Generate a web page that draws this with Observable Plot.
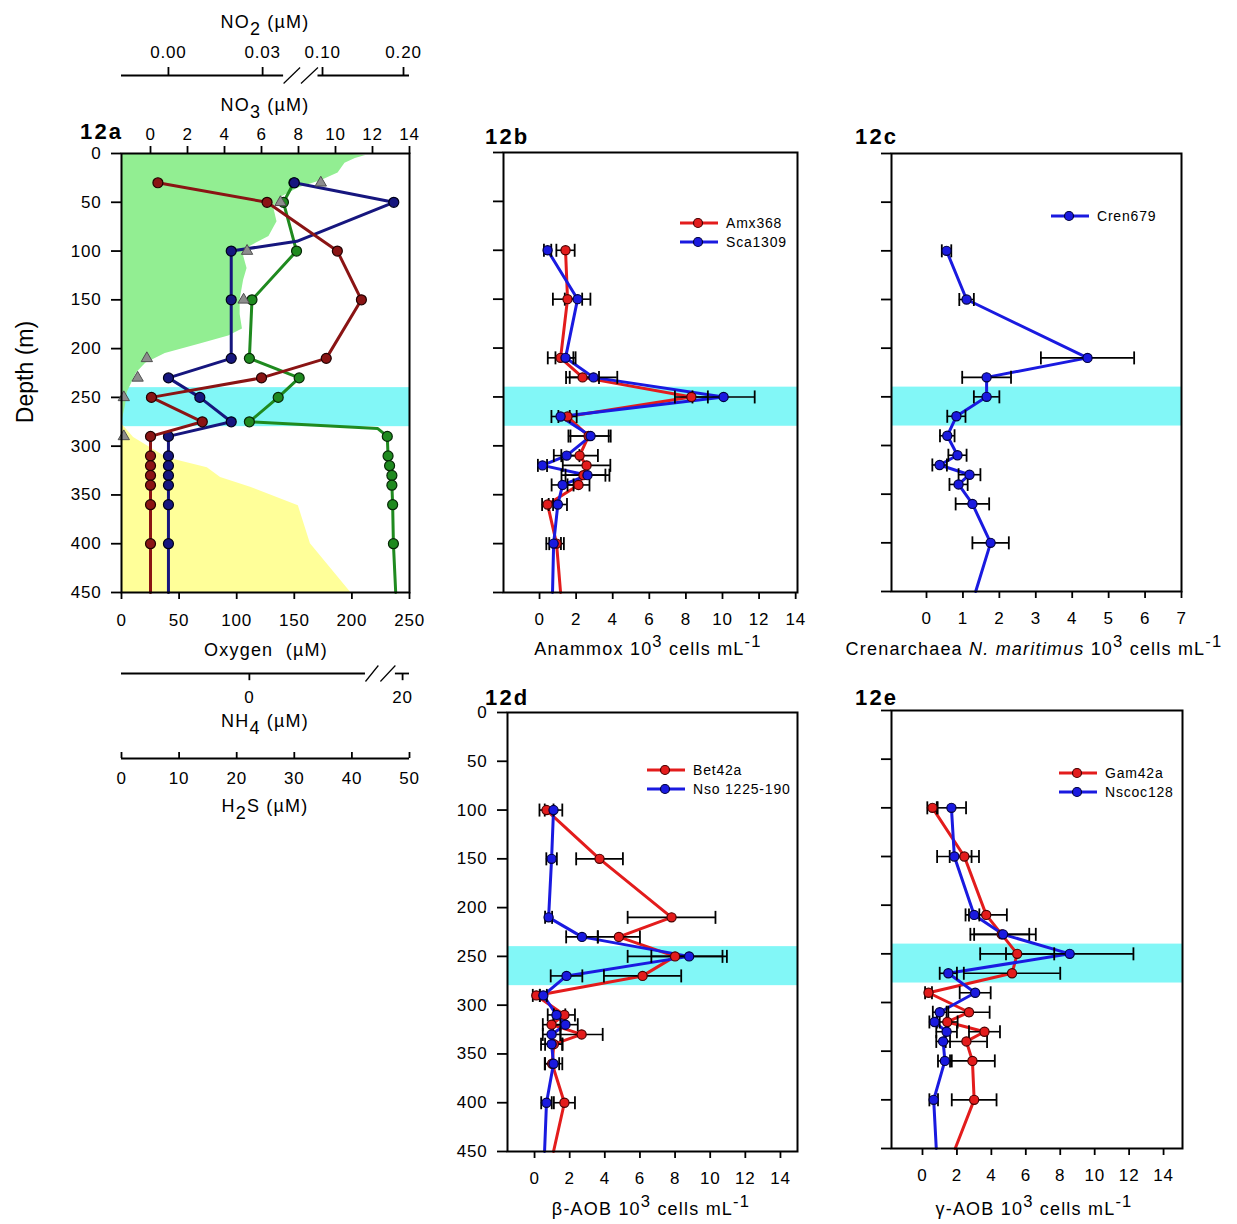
<!DOCTYPE html>
<html>
<head>
<meta charset="utf-8">
<script src="https://cdn.jsdelivr.net/npm/d3@7"></script>
<script src="https://cdn.jsdelivr.net/npm/@observablehq/plot@0.6"></script>
<style>
  html, body { margin: 0; padding: 0; background: #fff; }
  #fig { position: relative; width: 1237px; height: 1224px; overflow: hidden; background: #fff;
         font-family: "Liberation Sans", Arial, sans-serif; color: #000; }
  .t { position: absolute; white-space: nowrap; font-size: 18px; letter-spacing: 1.2px; line-height: 1;
       transform: translateX(-50%); }
  .sb { position: relative; top: 0.38em; }
  .sp { position: relative; top: -0.5em; font-size: 0.92em; }
  .tag { position: absolute; font-weight: bold; font-size: 22px; letter-spacing: 2.2px; line-height: 1; }
  .lg { position: absolute; height: 14px; font-size: 14px; letter-spacing: 0.8px; line-height: 14px;
        display: flex; align-items: center; white-space: nowrap; }
  .ylab { position: absolute; font-size: 23px; line-height: 1; white-space: nowrap;
          transform: translate(-50%, -50%) rotate(-90deg); }
  #fig g[aria-label$="tick"], #fig g[aria-label$="tick"] path { stroke-width: 1.8px; }
</style>
</head>
<body>
<div id="fig"></div>
<script>
// ---------------- tick values ----------------
const depthTicks = [0, 50, 100, 150, 200, 250, 300, 350, 400, 450];
const o2Ticks = [0, 50, 100, 150, 200, 250];
const no3Ticks = [0, 2, 4, 6, 8, 10, 12, 14];
const no2Ticks = [0, 0.03, 0.10, 0.20];
const nh4Ticks = [0, 20];
const h2sTicks = [0, 10, 20, 30, 40, 50];
const cellTicks = [0, 2, 4, 6, 8, 10, 12, 14];
const crenTicks = [0, 1, 2, 3, 4, 5, 6, 7];

// suboxic layer shaded in every panel (m)
const suboxicBand = [{top: 240, bottom: 280}];

// ---------------- 12a: water-column chemistry ----------------
const chemDepth = [30, 50, 100, 150, 210, 230, 250, 275, 290, 310, 320, 330, 340, 360, 400];
const no3 = [0.4, 6.3, 10.1, 11.4, 9.5, 6.0, 0.05, 2.8, 0, 0, 0, 0, 0, 0, 0];
const no2 = [0.067, 0.188, 0.020, 0.020, 0.020, 0.0, 0.010, 0.020, 0, 0, 0, 0, 0, 0, 0];
const nh4 = [0.17, 0.13, 0.18, 0.01, 0.0, 0.19, 0.11, 0.0, 18.0, 18.1, 18.3, 18.6, 18.6, 18.7, 18.8];
// bends of the drawn profiles that carry no symbol
const no2Bends = [{depth: 90, value: 0.070}];
const nh4Bends = [{depth: 282, value: 0.49}];
// values where the profiles meet the bottom of the panel (450 m)
const no3End = 0, no2End = 0, nh4End = 19.1;

// discrete oxygen samples (triangles)
const o2SampleDepth = [30, 50, 100, 150, 210, 230, 250, 290];
const o2Sample = [173, 138, 109, 106, 22, 14, 2, 2];

// continuous oxygen profile (green fill)
const o2ProfileDepth = [0, 2, 5, 10, 20, 28, 35, 45, 55, 70, 85, 95, 105, 118, 130, 150, 165, 180, 187, 195, 205, 215, 225, 235, 245, 258, 272, 280];
const o2Profile = [188, 212, 203, 194, 188, 173, 154, 138, 132, 135, 128, 112, 106, 109, 106, 103, 103, 105, 93, 69, 38, 21, 13, 9, 5, 3.5, 1, 0];

// sulfide profile (yellow fill)
const h2sDepth = [277, 291, 312, 322, 332, 342, 361, 400, 450];
const h2s = [0, 2.1, 7.9, 14.9, 17.2, 22.4, 30.7, 32.8, 39.8];

// broken axes: concentration breakpoints and where each sits along the axis (0 = left, 1 = right)
const no2Domain = [-0.015, 0, 0.03, 0.10, 0.2074];
const no2Stops = [0, 0.163, 0.490, 0.698, 1];
const no2BreakStrokes = [[0.0545, 0.0738], [0.0748, 0.0947]];
const nh4Domain = [-0.489, 0, 0.5, 17.1, 20, 20.92];
const nh4Stops = [0, 0.444, 0.899, 0.899, 0.976, 1];
const nh4BreakStrokes = [[0.443, 0.492], [17.1, 19.06]];

// ---------------- 12b-12e: cell counts (10^3 cells mL^-1) ----------------
const sampleDepth = [100, 150, 210, 230, 250, 270, 290, 310, 320, 330, 340, 360, 400];

const amx368 = [1.42, 1.53, 1.15, 2.35, 8.3, 1.53, 2.68, 2.19, 2.57, 2.4, 2.13, 0.44, 0.93];
const amx368Err = [0.5, 0.8, 0.7, 0.9, 0.9, 0.5, 1.1, 1.0, 1.3, 1.2, 0.6, 0.3, 0.4];
const sca1309 = [0.44, 2.08, 1.42, 2.95, 10.06, 1.15, 2.79, 1.48, 0.16, 2.62, 1.26, 1.0, 0.77];
const sca1309Err = [0.2, 0.7, 0.55, 1.3, 1.7, 0.5, 1.1, 0.7, 0.25, 1.2, 0.6, 0.5, 0.4];
const amx368End = 1.15, sca1309End = 0.71;

const cren679 = [0.55, 1.1, 4.42, 1.65, 1.65, 0.82, 0.57, 0.85, 0.36, 1.18, 0.88, 1.26, 1.76];
const cren679Err = [0.13, 0.2, 1.28, 0.67, 0.35, 0.25, 0.2, 0.25, 0.2, 0.3, 0.25, 0.46, 0.5];
const cren679End = 1.35;

const bet42a = [0.68, 3.7, 7.8, 4.8, 8.0, 6.15, 0.1, 1.7, 0.97, 2.68, 1.1, 1.0, 1.7];
const bet42aErr = [0.4, 1.33, 2.5, 1.2, 2.7, 2.2, 0.2, 0.6, 0.5, 1.2, 0.5, 0.4, 0.6];
const nso1225 = [1.08, 0.97, 0.8, 2.7, 8.8, 1.82, 0.5, 1.25, 1.76, 0.97, 0.97, 1.08, 0.68];
const nso1225Err = [0.5, 0.3, 0.2, 0.9, 2.15, 0.9, 0.2, 0.5, 0.7, 0.5, 0.6, 0.5, 0.3];
const bet42aEnd = 1.08, nso1225End = 0.57;

const gam42a = [0.58, 2.43, 3.7, 4.6, 5.5, 5.2, 0.35, 2.7, 1.44, 3.6, 2.55, 2.9, 3.0];
const gam42aErr = [0.3, 0.85, 1.2, 1.6, 2.15, 2.8, 0.2, 1.2, 0.6, 0.9, 1.2, 1.3, 1.3];
const nscoc128 = [1.68, 1.85, 3.0, 4.68, 8.55, 1.5, 3.06, 1.0, 0.7, 1.4, 1.2, 1.3, 0.65];
const nscoc128Err = [0.85, 1.0, 0.3, 1.9, 3.7, 0.5, 0.9, 0.4, 0.3, 0.6, 0.4, 0.4, 0.25];
const gam42aEnd = 1.9, nscoc128End = 0.8;

// ---------------- drawing ----------------
const W = 1237, H = 1224;
const fig = document.getElementById("fig");
const SVG_STYLE = "position:absolute;left:0;top:0;max-width:none;background:transparent;overflow:visible;" +
  "font-family:'Liberation Sans',Arial,sans-serif;font-size:17px;letter-spacing:0.8px;";

const CYAN = "#82f7f7", LIGHTGREEN = "#92ee92", YELLOW = "#ffff99";
const RED = "#e31c1c", RED_EDGE = "#4a0000", BLUE = "#1a1ae0", BLUE_EDGE = "#000040";
const MAROON = "#8a1414", NAVY = "#16167e", GREEN = "#1f8a1f";

// panel frames in page pixels
const frameA = {left: 121, right: 409, top: 153, bottom: 592};
const frameB = {left: 503, right: 797, top: 152, bottom: 592};
const frameC = {left: 891, right: 1181, top: 153, bottom: 591};
const frameD = {left: 507, right: 797, top: 712, bottom: 1151};
const frameE = {left: 891, right: 1182, top: 710, bottom: 1148};

// broken-axis x scales: a piecewise transform places each concentration along the axis
const brokenX = (domain, stops) => ({transform: d3.scaleLinear().domain(domain).range(stops), domain: [0, 1]});
const no2X = brokenX(no2Domain, no2Stops);
const nh4X = brokenX(nh4Domain, nh4Stops);

function layer(f, x, y, marks) {
  const svg = Plot.plot({
    width: W, height: H,
    marginLeft: f.left, marginRight: W - f.right, marginTop: f.top, marginBottom: H - f.bottom,
    x: {range: [f.left, f.right], axis: null, label: null, ...x},
    y: {domain: [0, 450], range: [f.top, f.bottom], axis: null, label: null, ...y},
    style: SVG_STYLE,
    marks
  });
  fig.append(svg);
}

const rows = (vals, errs) => sampleDepth.map((depth, i) => ({depth, v: vals[i], e: errs ? errs[i] : 0}));
const withEnd = (data, end) => data.concat([{depth: 450, v: end}]);

// vertical end caps of the error bars
const capSymbol = {draw(ctx, size) { const r = Math.sqrt(size / Math.PI); ctx.moveTo(0, -r); ctx.lineTo(0, r); }};

function countPanel(f, xDomain, ticks, series, depthLabels) {
  const marks = [Plot.rect(suboxicBand, {y1: "top", y2: "bottom", fill: CYAN})];
  for (const s of series) {
    marks.push(Plot.line(withEnd(s.data, s.end), {x: "v", y: "depth", stroke: s.color, strokeWidth: 3, strokeLinejoin: "round"}));
  }
  for (const s of series) {
    marks.push(
      Plot.ruleY(s.data, {y: "depth", x1: d => d.v - d.e, x2: d => d.v + d.e, stroke: "black", strokeWidth: 1.6}),
      Plot.dot(s.data, {x: d => d.v - d.e, y: "depth", symbol: capSymbol, r: 6.5, stroke: "black", fill: "none", strokeWidth: 1.8}),
      Plot.dot(s.data, {x: d => d.v + d.e, y: "depth", symbol: capSymbol, r: 6.5, stroke: "black", fill: "none", strokeWidth: 1.8})
    );
  }
  for (const s of series) {
    marks.push(Plot.dot(s.data, {x: "v", y: "depth", r: 4.6, fill: s.color, stroke: s.edge, strokeWidth: 1.2}));
  }
  marks.push(Plot.frame({stroke: "black", strokeWidth: 2}));
  layer(f,
    {domain: xDomain, axis: "bottom", ticks, tickSize: 7, tickPadding: 13, tickFormat: d => String(d)},
    {axis: "left", ticks: depthTicks, tickSize: 10, tickPadding: 10,
     tickFormat: depthLabels ? (d => String(d)) : (() => "")},
    marks);
}

// ---- 12a layers ----
const o2Rows = o2ProfileDepth.map((depth, i) => ({depth, v: o2Profile[i]}));
const h2sRows = h2sDepth.map((depth, i) => ({depth, v: h2s[i]}));
const chemRows = vals => chemDepth.map((depth, i) => ({depth, v: vals[i]}));
const withBends = (data, bends, end) =>
  data.concat(bends.map(b => ({depth: b.depth, v: b.value})), [{depth: 450, v: end}]).sort((a, b) => a.depth - b.depth);

// oxygen scale: band, oxygen fill, depth and oxygen axes
layer(frameA,
  {domain: [0, 250], axis: "bottom", ticks: o2Ticks, tickSize: 7, tickPadding: 14, tickFormat: d => String(d)},
  {axis: "left", ticks: depthTicks, tickSize: 10, tickPadding: 10, tickFormat: d => String(d)},
  [
    Plot.rect(suboxicBand, {y1: "top", y2: "bottom", fill: CYAN}),
    Plot.areaX(o2Rows, {x1: 0, x2: "v", y: "depth", fill: LIGHTGREEN})
  ]);

// sulfide fill
layer(frameA, {domain: [0, 50]}, {}, [
  Plot.areaX(h2sRows, {x1: 0, x2: "v", y: "depth", fill: YELLOW})
]);

// ammonium
const nh4Data = chemRows(nh4);
layer(frameA, nh4X, {}, [
  Plot.line(withBends(nh4Data, nh4Bends, nh4End), {x: "v", y: "depth", stroke: GREEN, strokeWidth: 3, strokeLinejoin: "round"}),
  Plot.dot(nh4Data, {x: "v", y: "depth", r: 5, fill: GREEN, stroke: "#062806", strokeWidth: 1.2})
]);

// nitrite
const no2Data = chemRows(no2);
layer(frameA, no2X, {}, [
  Plot.line(withBends(no2Data, no2Bends, no2End), {x: "v", y: "depth", stroke: NAVY, strokeWidth: 3, strokeLinejoin: "round"}),
  Plot.dot(no2Data, {x: "v", y: "depth", r: 5, fill: NAVY, stroke: "#000018", strokeWidth: 1.2})
]);

// nitrate with its top axis
const no3Data = chemRows(no3);
layer(frameA,
  {domain: [-1.568, 14], axis: "top", ticks: no3Ticks, tickSize: 8, tickPadding: 6, tickFormat: d => String(d)},
  {},
  [
    Plot.line(withEnd(no3Data, no3End), {x: "v", y: "depth", stroke: MAROON, strokeWidth: 3, strokeLinejoin: "round"}),
    Plot.dot(no3Data, {x: "v", y: "depth", r: 5, fill: MAROON, stroke: "#200000", strokeWidth: 1.2})
  ]);

// oxygen bottle samples and the panel box
layer(frameA, {domain: [0, 250]}, {}, [
  Plot.dot(o2SampleDepth.map((depth, i) => ({depth, v: o2Sample[i]})),
    {x: "v", y: "depth", symbol: "triangle", r: 4.2, fill: "#8d8d8d", stroke: "#505050", strokeWidth: 1}),
  Plot.frame({stroke: "black", strokeWidth: 2})
]);

// free-standing axes of 12a (NO2 above, NH4 and H2S below)
function looseAxis(lineY, x, extent, ticks, tickDir, labelDy, fmt, breaks) {
  const [lo, hi] = extent;
  const pieces = breaks ? [[lo, breaks[0][0]], [breaks[1][1], hi]] : [[lo, hi]];
  const svg = Plot.plot({
    width: W, height: H,
    marginLeft: 121, marginRight: W - 409, marginTop: lineY - 8, marginBottom: H - lineY - 8,
    x: {range: [121, 409], axis: null, ...x},
    y: {domain: [-1, 1], range: [lineY + 8, lineY - 8], axis: null},
    style: SVG_STYLE,
    marks: [
      Plot.ruleY(pieces, {y: 0, x1: d => d[0], x2: d => d[1], stroke: "black", strokeWidth: 1.8}),
      Plot.ruleX(ticks, {x: d => d, y1: 0, y2: tickDir, stroke: "black", strokeWidth: 1.8}),
      Plot.text(ticks, {x: d => d, y: 0, dy: labelDy, text: fmt, lineAnchor: "middle", fill: "black"}),
      ...(breaks ? [Plot.link(breaks, {x1: d => d[0], x2: d => d[1], y1: -1, y2: 1, stroke: "black", strokeWidth: 1.2})] : [])
    ]
  });
  fig.append(svg);
}
looseAxis(75, no2X, [no2Domain[0], no2Domain[no2Domain.length - 1]], no2Ticks, 1, -22.5, d => d.toFixed(2), no2BreakStrokes);
looseAxis(673, nh4X, [nh4Domain[0], nh4Domain[nh4Domain.length - 1]], nh4Ticks, -0.9, 24, d => String(d), nh4BreakStrokes);
looseAxis(758, {domain: [0, 50]}, [0, 50], h2sTicks, 0.75, 20, d => String(d), null);

// ---- 12b-12e ----
countPanel(frameB, [-1.97, 14.1], cellTicks, [
  {data: rows(amx368, amx368Err), end: amx368End, color: RED, edge: RED_EDGE},
  {data: rows(sca1309, sca1309Err), end: sca1309End, color: BLUE, edge: BLUE_EDGE}
], false);
countPanel(frameC, [-0.961, 7], crenTicks, [
  {data: rows(cren679, cren679Err), end: cren679End, color: BLUE, edge: BLUE_EDGE}
], false);
countPanel(frameD, [-1.54, 14.97], cellTicks, [
  {data: rows(bet42a, bet42aErr), end: bet42aEnd, color: RED, edge: RED_EDGE},
  {data: rows(nso1225, nso1225Err), end: nso1225End, color: BLUE, edge: BLUE_EDGE}
], true);
countPanel(frameE, [-1.8, 15.1], cellTicks, [
  {data: rows(gam42a, gam42aErr), end: gam42aEnd, color: RED, edge: RED_EDGE},
  {data: rows(nscoc128, nscoc128Err), end: nscoc128End, color: BLUE, edge: BLUE_EDGE}
], false);

// ---------------- text ----------------
function put(cls, html, left, top) {
  const d = document.createElement("div");
  d.className = cls;
  d.style.left = left + "px";
  d.style.top = top + "px";
  d.innerHTML = html;
  fig.append(d);
}
const cells = '10<span class="sp">3</span> cells mL<span class="sp">-1</span>';
put("t", 'NO<span class="sb">2</span> (µM)', 265, 13);
put("t", 'NO<span class="sb">3</span> (µM)', 265, 96);
put("t", 'Oxygen &nbsp;(µM)', 266, 641);
put("t", 'NH<span class="sb">4</span> (µM)', 265, 712);
put("t", 'H<span class="sb">2</span>S (µM)', 265, 797);
put("t", 'Anammox ' + cells, 648, 640);
put("t", 'Crenarchaea <i>N. maritimus</i> ' + cells, 1034, 640);
put("t", 'β-AOB ' + cells, 651, 1200);
put("t", 'γ-AOB ' + cells, 1034, 1200);
put("ylab", 'Depth (m)', 25, 372);

put("tag", "12a", 80, 121);
put("tag", "12b", 485, 126);
put("tag", "12c", 855, 126);
put("tag", "12d", 485, 687);
put("tag", "12e", 855, 687);

function legend(x, yFirst, gap, items) {
  items.forEach((it, i) => {
    put("lg",
      `<svg width="40" height="14"><line x1="1" y1="7" x2="39" y2="7" stroke="${it.color}" stroke-width="3"/>` +
      `<circle cx="19" cy="7" r="4.5" fill="${it.color}" stroke="${it.edge}" stroke-width="1.2"/></svg>` +
      `<span style="margin-left:7px">${it.label}</span>`,
      x, yFirst + i * gap - 7);
  });
}
legend(679, 223, 18.5, [{label: "Amx368", color: RED, edge: RED_EDGE}, {label: "Sca1309", color: BLUE, edge: BLUE_EDGE}]);
legend(1050, 216, 18.5, [{label: "Cren679", color: BLUE, edge: BLUE_EDGE}]);
legend(646, 770, 18.5, [{label: "Bet42a", color: RED, edge: RED_EDGE}, {label: "Nso 1225-190", color: BLUE, edge: BLUE_EDGE}]);
legend(1058, 773, 18.5, [{label: "Gam42a", color: RED, edge: RED_EDGE}, {label: "Nscoc128", color: BLUE, edge: BLUE_EDGE}]);
</script>
</body>
</html>
